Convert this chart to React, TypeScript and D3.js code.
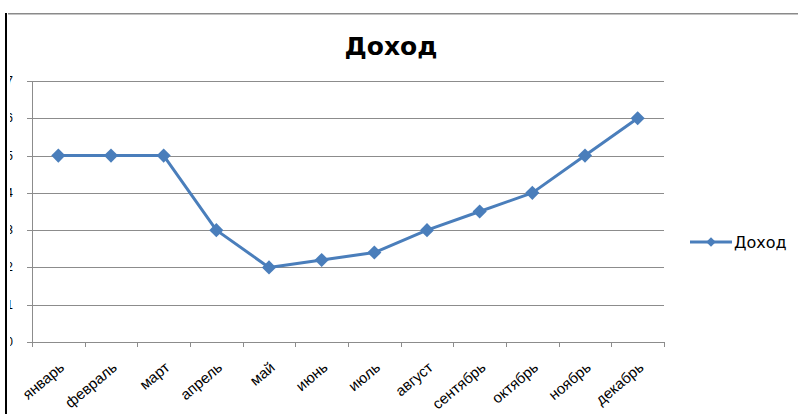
import React from 'react';
import { scaleBand, scaleLinear, line, symbol, symbolSquare } from 'd3';

const months = ['январь', 'февраль', 'март', 'апрель', 'май', 'июнь', 'июль', 'август', 'сентябрь', 'октябрь', 'ноябрь', 'декабрь'];
const income = [5, 5, 5, 3, 2, 2.2, 2.4, 3, 3.5, 4, 5, 6];
const yTicks = [0, 1, 2, 3, 4, 5, 6, 7];
const seriesName = 'Доход';
const title = 'Доход';

const W = 798;
const H = 414;
const plot = { left: 32, right: 664, top: 81, bottom: 342 };
const blue = '#4a7ebb';
const grid = '#8c8c8c';

const App: React.FC = () => {
  const x = scaleBand<string>().domain(months).range([plot.left, plot.right]);
  const y = scaleLinear().domain([0, 7]).range([plot.bottom, plot.top]);
  const cx = (m: string) => (x(m) as number) + x.bandwidth() / 2;

  const path = line<number>()
    .x((_, i) => cx(months[i]))
    .y(d => y(d))(income) as string;

  // square turned 45deg = even diamond
  const diamond = symbol().type(symbolSquare).size(100)() as string;
  const smallDiamond = symbol().type(symbolSquare).size(45)() as string;

  const boundaries = [...months.map(m => x(m) as number), plot.right];

  return (
    <svg width={W} height={H} style={{ position: 'absolute', left: 0, top: 0, background: '#fff' }}>
      <defs>
        <clipPath id="ylab">
          <rect x={10} y={0} width={30} height={H} />
        </clipPath>
      </defs>
      {/* frame remnants */}
      <line x1={6} x2={6} y1={13} y2={H} stroke="#000" strokeWidth={2} />
      <line x1={8} x2={W} y1={13.5} y2={13.5} stroke="#8a8a8a" strokeWidth={1} />
      <line x1={8} x2={W} y1={14.5} y2={14.5} stroke="#c4c4c4" strokeWidth={1} />

      <text x={391} y={55} textAnchor="middle" fontFamily="DejaVu Sans" fontWeight="bold" fontSize={25} fill="#000">
        {title}
      </text>

      {/* gridlines */}
      {yTicks.slice(1).map(t => (
        <line key={t} x1={plot.left} x2={plot.right} y1={Math.round(y(t)) + 0.5} y2={Math.round(y(t)) + 0.5} stroke={grid} strokeWidth={1} />
      ))}
      {/* y axis */}
      <line x1={plot.left + 0.5} x2={plot.left + 0.5} y1={plot.top} y2={plot.bottom + 5} stroke={grid} />
      {yTicks.map(t => (
        <line key={'yt' + t} x1={plot.left - 5} x2={plot.left} y1={Math.round(y(t)) + 0.5} y2={Math.round(y(t)) + 0.5} stroke={grid} />
      ))}
      <g clipPath="url(#ylab)">
        {yTicks.map(t => (
          <text key={'yl' + t} x={13} y={y(t) + 4} textAnchor="end" fontFamily="Liberation Sans" fontSize={12} fill="#000">
            {t}
          </text>
        ))}
      </g>
      {/* x axis */}
      <line x1={plot.left} x2={plot.right} y1={plot.bottom + 0.5} y2={plot.bottom + 0.5} stroke={grid} />
      {boundaries.map((b, i) => (
        <line key={'xt' + i} x1={Math.round(b) + 0.5} x2={Math.round(b) + 0.5} y1={plot.bottom} y2={plot.bottom + 5} stroke={grid} />
      ))}
      {months.map(m => (
        <text
          key={m}
          transform={`translate(${cx(m) + 7},${plot.bottom + 27}) rotate(-40)`}
          textAnchor="end"
          fontFamily="Liberation Sans"
          fontSize={15}
          fill="#000"
        >
          {m}
        </text>
      ))}

      {/* series */}
      <path d={path} fill="none" stroke={blue} strokeWidth={3} strokeLinejoin="round" />
      {income.map((v, i) => (
        <path key={'pt' + i} d={diamond} transform={`translate(${cx(months[i])},${y(v)}) rotate(45)`} fill={blue} />
      ))}

      {/* legend */}
      <line x1={690} x2={732} y1={242} y2={242} stroke={blue} strokeWidth={3} />
      <path d={smallDiamond} transform="translate(711,242) rotate(45)" fill={blue} />
      <text x={734} y={248} fontFamily="DejaVu Sans" fontSize={16} fill="#000">
        {seriesName}
      </text>
    </svg>
  );
};

export default App;
